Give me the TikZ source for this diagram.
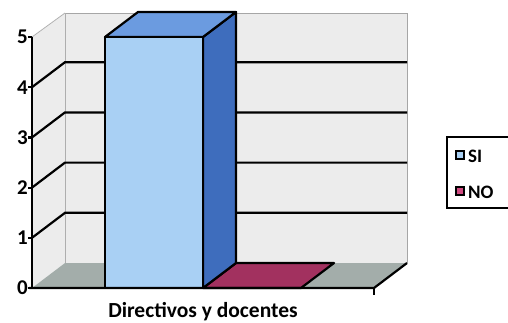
\documentclass[tikz,border=0pt]{standalone}
\usepackage{fontspec}
\setmainfont{Carlito}
\definecolor{wallc}{HTML}{ECECEC}
\definecolor{floorc}{HTML}{A3ADAA}
\definecolor{sifront}{HTML}{A9D0F4}
\definecolor{sitop}{HTML}{6B9BE0}
\definecolor{siside}{HTML}{3E6DBD}
\definecolor{noc}{HTML}{A2315F}
\definecolor{nolegend}{HTML}{D04A80}
\begin{document}
\begin{tikzpicture}[x=1pt,y=-1pt,
  blk/.style={line width=2.2pt,black},
  gridln/.style={line width=2.2pt,black},
  face/.style={draw=black,line width=2.2pt,line join=round},
  ticklbl/.style={font=\bfseries\fontsize{21}{21}\selectfont,anchor=east,inner sep=0pt},
  legsq/.style={draw=black,line width=1.5pt,minimum size=8pt,inner sep=0pt},
  leglbl/.style={font=\bfseries\fontsize{19}{19}\selectfont,anchor=west,inner sep=0pt}]
\useasboundingbox (0,0) rectangle (508,322);
\fill[white] (0,0) rectangle (508,322);
% corners
\coordinate (fl) at (32,288);
\coordinate (bl) at (65,263);
\coordinate (br) at (407,263);
\coordinate (fr) at (374,288);
\coordinate (tl) at (32,37);
\coordinate (tbl) at (65,13);
\coordinate (tbr) at (407,13);
% walls
\fill[wallc] (tbl) rectangle (br);
\draw[gray!70,line width=0.8pt] (bl) -- (tbl) -- (tbr) -- (br);
\fill[wallc] (fl) -- (bl) -- (tbl) -- (tl) -- cycle;
\draw[gray!60,line width=0.8pt] (tl) -- (tbl);
% floor
\fill[floorc] (fl) -- (bl) -- (br) -- (fr) -- cycle;
% gridlines
\foreach \v in {1,2,3,4}{
  \pgfmathsetmacro{\yy}{288-50.2*\v}
  \draw[gridln] (32,\yy) -- ++(33,-25) -- (407,\yy-25);
}
% NO bar (zero height)
\coordinate (n1) at (203,288);
\coordinate (n2) at (236,263);
\coordinate (n3) at (334,263);
\coordinate (n4) at (301,288);
\filldraw[fill=noc,face] (n1) -- (n2) -- (n3) -- (n4) -- cycle;
% SI bar
\coordinate (a1) at (105,288);
\coordinate (a2) at (203,288);
\coordinate (a3) at (203,37);
\coordinate (a4) at (105,37);
\coordinate (a5) at (138,12);
\coordinate (a6) at (236,12);
\coordinate (a7) at (236,263);
\filldraw[fill=siside,face] (a2) -- (a3) -- (a6) -- (a7) -- cycle;
\filldraw[fill=sitop,face] (a4) -- (a5) -- (a6) -- (a3) -- cycle;
\filldraw[fill=sifront,face] (a1) rectangle (a3);
% floor edges and axis
\draw[blk] (29,288) -- (fr) -- (br);
\draw[blk] (fr) -- (374,295);
\draw[blk] (tl) -- (fl);
\foreach \v in {0,...,5}{
  \pgfmathsetmacro{\yy}{288-50.2*\v}
  \draw[blk] (28,\yy) -- (32,\yy);
  \node[ticklbl] (t\v) at (28,\yy) {\v};
}
% category label
\node[font=\bfseries\fontsize{21.5}{21.5}\selectfont,inner sep=0pt] (cat) at (203,312) {Directivos y docentes};
% legend
\draw[black,line width=1.5pt] (508,137) -- (447,137) -- (447,208) -- (508,208);
\node[legsq,fill=sifront] (lsi) at (460,155) {};
\node[leglbl] (lsit) at (468,156) {SI};
\node[legsq,fill=nolegend] (lno) at (460,191) {};
\node[leglbl] (lnot) at (468,192) {NO};
\end{tikzpicture}
\end{document}
